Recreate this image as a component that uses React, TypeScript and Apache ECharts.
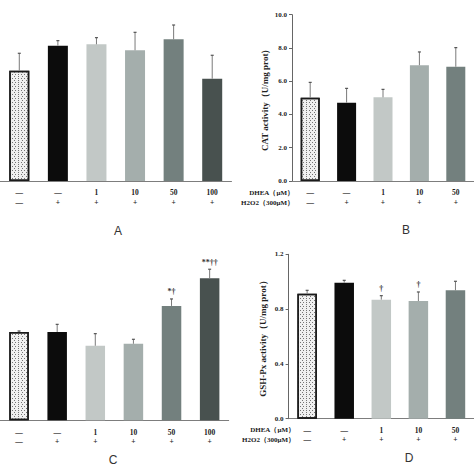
import React, { useEffect, useRef } from "react";
import * as echarts from "echarts";

const dheaRow = ["—", "—", "1", "10", "50", "100"];
const h2o2Row = ["—", "+", "+", "+", "+", "+"];
const groupsA = ["g1", "g2", "g3", "g4", "g5", "g6"];
const groupsB = ["g1", "g2", "g3", "g4", "g5"];

const valuesA = [6.63, 8.14, 8.22, 7.86, 8.52, 6.15];
const errorsA = [1.05, 0.3, 0.4, 1.08, 0.86, 1.41];
const notesA = ["", "", "", "", "", ""];

const valuesB = [5.01, 4.71, 5.03, 6.96, 6.87];
const errorsB = [0.92, 0.86, 0.48, 0.8, 1.15];
const notesB = ["", "", "", "", ""];

const valuesC = [5.32, 5.32, 4.49, 4.61, 6.89, 8.55];
const errorsC = [0.06, 0.46, 0.73, 0.27, 0.42, 0.55];
const notesC = ["", "", "", "", "*†", "**††"];

const valuesD = [0.912, 0.993, 0.869, 0.859, 0.937];
const errorsD = [0.025, 0.017, 0.029, 0.066, 0.066];
const notesD = ["", "", "†", "†", ""];

const ticksB = [0, 2, 4, 6, 8, 10];
const ticksD = [0, 0.4, 0.8, 1.2];

const barColors = ["#f2f2f2", "#0c0c0c", "#c2c8c6", "#a4aeac", "#73807e", "#48514f"];
const SERIF = "'Liberation Serif', 'DejaVu Serif', serif";

function barData(values: number[]) {
  return values.map((v, i) => {
    if (i === 0) {
      return {
        value: v,
        itemStyle: {
          color: "#f0f0f0",
          borderColor: "#1a1a1a",
          borderWidth: 1.5,
          decal: {
            symbol: "rect",
            symbolSize: 1,
            color: "#747474",
            dashArrayX: [[1, 1.1], [0, 1.05, 1, 0.05]],
            dashArrayY: [1, 0.8],
            rotation: 0,
          },
        },
      };
    }
    return { value: v, itemStyle: { color: barColors[i] } };
  });
}

function errSeries(values: number[], errors: number[], notes: string[], idx: number) {
  return {
    type: "custom",
    xAxisIndex: idx,
    yAxisIndex: idx,
    z: 5,
    silent: true,
    data: values.map((v, i) => [i, v, errors[i]]),
    renderItem: (params: any, api: any) => {
      const x = api.value(0);
      const v = api.value(1);
      const e = api.value(2);
      const p0 = api.coord([x, v]);
      const p1 = api.coord([x, v + e]);
      const children: any[] = [
        {
          type: "line",
          shape: { x1: p0[0], y1: p0[1], x2: p1[0], y2: p1[1] },
          style: { stroke: "#7a7a7a", lineWidth: 1 },
        },
        {
          type: "line",
          shape: { x1: p1[0] - 1.5, y1: p1[1], x2: p1[0] + 1.5, y2: p1[1] },
          style: { stroke: "#555", lineWidth: 1.2 },
        },
      ];
      const note = notes[params.dataIndex];
      if (note) {
        children.push({
          type: "text",
          x: p1[0],
          y: p1[1] - 3,
          style: {
            text: note,
            fill: "#333",
            font: `bold 8px ${SERIF}`,
            align: "center",
            verticalAlign: "bottom",
          },
        });
      }
      return { type: "group", children };
    },
  };
}

function xAxisFor(cats: string[], idx: number) {
  return {
    type: "category",
    gridIndex: idx,
    data: cats,
    axisLine: { lineStyle: { color: "#7d7d7d", width: 1 } },
    axisTick: { show: false },
    axisLabel: {
      interval: 0,
      margin: 7,
      lineHeight: 9.5,
      fontFamily: SERIF,
      fontWeight: "bold",
      fontSize: 7.5,
      color: "#222",
      formatter: (_: string, i: number) => `${dheaRow[i]}\n${h2o2Row[i]}`,
    },
  };
}

const labelStyle = { fontFamily: SERIF, fontWeight: "bold", fontSize: 7, color: "#222" };
const rowFont = `bold 7px ${SERIF}`;
const letterFont = "12px 'Liberation Sans', Arial, sans-serif";

export default function App() {
  const ref = useRef<HTMLDivElement>(null);
  useEffect(() => {
    if (!ref.current) return;
    const chart = echarts.init(ref.current, null, { renderer: "svg" });
    const option: any = {
      animation: false,
      backgroundColor: "#ffffff",
      grid: [
        { left: -2.5, top: 14.7, width: 234, height: 166.3 },
        { left: 292, top: 14.7, width: 193, height: 166.3 },
        { left: -3.3, top: 254.3, width: 232, height: 166 },
        { left: 288.6, top: 254.3, width: 194.5, height: 164.4 },
      ],
      xAxis: [
        xAxisFor(groupsA, 0),
        xAxisFor(groupsB, 1),
        xAxisFor(groupsA, 2),
        xAxisFor(groupsB, 3),
      ],
      yAxis: [
        { type: "value", gridIndex: 0, min: 0, max: 10, show: false },
        {
          type: "value",
          gridIndex: 1,
          min: ticksB[0],
          max: ticksB[ticksB.length - 1],
          interval: 2,
          splitLine: { show: false },
          axisLine: { show: true, lineStyle: { color: "#666", width: 1 } },
          axisTick: { show: true, length: 3, lineStyle: { color: "#666" } },
          axisLabel: { ...labelStyle, margin: 5, formatter: (v: number) => v.toFixed(1) },
          name: "CAT activity（U/mg prot）",
          nameLocation: "middle",
          nameRotate: 90,
          nameGap: 23,
          nameTextStyle: { fontFamily: SERIF, fontWeight: "bold", fontSize: 9, color: "#222" },
        },
        { type: "value", gridIndex: 2, min: 0, max: 10, show: false },
        {
          type: "value",
          gridIndex: 3,
          min: ticksD[0],
          max: ticksD[ticksD.length - 1],
          interval: 0.4,
          splitLine: { show: false },
          axisLine: { show: true, lineStyle: { color: "#666", width: 1 } },
          axisTick: { show: true, length: 3, lineStyle: { color: "#666" } },
          axisLabel: { ...labelStyle, margin: 5, formatter: (v: number) => v.toFixed(1) },
          name: "GSH-Px activity（U/mg prot）",
          nameLocation: "middle",
          nameRotate: 90,
          nameGap: 21,
          nameTextStyle: { fontFamily: SERIF, fontWeight: "bold", fontSize: 9, color: "#222" },
        },
      ],
      series: [
        { type: "bar", xAxisIndex: 0, yAxisIndex: 0, barWidth: 20, data: barData(valuesA) },
        { type: "bar", xAxisIndex: 1, yAxisIndex: 1, barWidth: 19, data: barData(valuesB) },
        { type: "bar", xAxisIndex: 2, yAxisIndex: 2, barWidth: 19.5, data: barData(valuesC) },
        { type: "bar", xAxisIndex: 3, yAxisIndex: 3, barWidth: 19.5, data: barData(valuesD) },
        errSeries(valuesA, errorsA, notesA, 0),
        errSeries(valuesB, errorsB, notesB, 1),
        errSeries(valuesC, errorsC, notesC, 2),
        errSeries(valuesD, errorsD, notesD, 3),
      ],
      graphic: [
        { type: "text", x: 294, y: 193.3, style: { text: "DHEA（μM）", font: rowFont, fill: "#222", align: "right", verticalAlign: "middle" } },
        { type: "text", x: 294, y: 202.7, style: { text: "H2O2（300μM）", font: rowFont, fill: "#222", align: "right", verticalAlign: "middle" } },
        { type: "text", x: 295, y: 430.3, style: { text: "DHEA（μM）", font: rowFont, fill: "#222", align: "right", verticalAlign: "middle" } },
        { type: "text", x: 295, y: 439.5, style: { text: "H2O2（300μM）", font: rowFont, fill: "#222", align: "right", verticalAlign: "middle" } },
        { type: "text", x: 118, y: 231, style: { text: "A", font: letterFont, fill: "#333", align: "center", verticalAlign: "middle" } },
        { type: "text", x: 406, y: 230, style: { text: "B", font: letterFont, fill: "#333", align: "center", verticalAlign: "middle" } },
        { type: "text", x: 113, y: 460, style: { text: "C", font: letterFont, fill: "#333", align: "center", verticalAlign: "middle" } },
        { type: "text", x: 409, y: 458, style: { text: "D", font: letterFont, fill: "#333", align: "center", verticalAlign: "middle" } },
      ],
    };
    chart.setOption(option);
    return () => chart.dispose();
  }, []);
  return (
    <div style={{ position: "fixed", left: 0, top: 0, width: 474, height: 474, overflow: "hidden", background: "#fff" }}>
      <div ref={ref} style={{ width: 474, height: 474 }} />
    </div>
  );
}
